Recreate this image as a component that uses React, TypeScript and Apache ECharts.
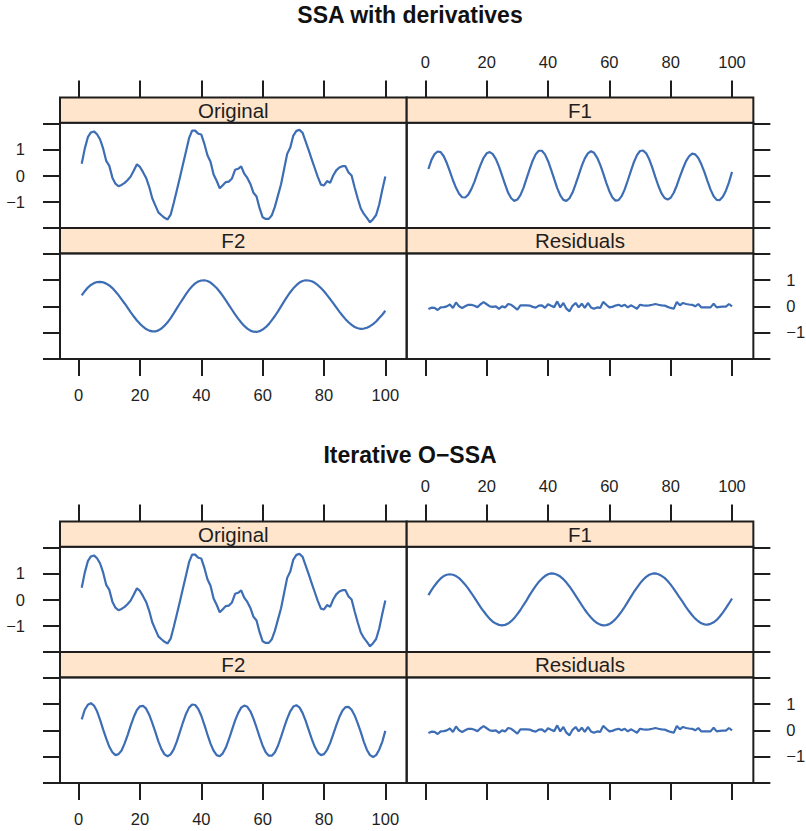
import React, { useEffect, useRef } from "react";
import * as echarts from "echarts";

// Tick positions and labelled ticks
const X_TICKS = [0, 20, 40, 60, 80, 100];
const Y_TICKS = [-2, -1, 0, 1, 2];
const Y_LABELS = [-1, 0, 1];

// Observed series (t = 1..100)
const original = [
  0.45, 1.03, 1.47, 1.65, 1.69, 1.58, 1.38, 1.03, 0.56, 0.37,
  -0.08, -0.31, -0.41, -0.36, -0.28, -0.17, -0.03, 0.19, 0.43, 0.33,
  0.13, -0.09, -0.43, -0.87, -1.14, -1.41, -1.52, -1.62, -1.68, -1.5,
  -1.05, -0.57, -0.08, 0.42, 0.92, 1.43, 1.72, 1.72, 1.6, 1.57,
  1.21, 0.78, 0.53, 0.04, -0.2, -0.49, -0.37, -0.25, -0.23, -0.11,
  0.22, 0.26, 0.35, 0.07, -0.09, -0.32, -0.66, -0.8, -1.25, -1.6,
  -1.66, -1.66, -1.52, -1.19, -0.76, -0.33, 0.25, 0.83, 1.07, 1.53,
  1.71, 1.75, 1.64, 1.31, 0.97, 0.62, 0.28, -0.06, -0.35, -0.38,
  -0.21, -0.28, 0.0, 0.2, 0.31, 0.36, 0.36, 0.12, 0.0, -0.46,
  -0.88, -1.26, -1.47, -1.62, -1.79, -1.67, -1.51, -1.11, -0.55, -0.04,
];

// SSA with derivatives: reconstructed components
const ssaF1 = [
  0.25, 0.6, 0.82, 0.92, 0.9, 0.74, 0.48, 0.16, -0.18, -0.47,
  -0.7, -0.83, -0.84, -0.73, -0.52, -0.24, 0.09, 0.41, 0.68, 0.85,
  0.9, 0.82, 0.63, 0.35, 0.01, -0.34, -0.66, -0.87, -0.97, -0.92,
  -0.75, -0.47, -0.12, 0.24, 0.57, 0.82, 0.95, 0.95, 0.81, 0.56,
  0.23, -0.13, -0.48, -0.76, -0.93, -0.97, -0.87, -0.65, -0.33, 0.02,
  0.37, 0.66, 0.85, 0.93, 0.87, 0.69, 0.42, 0.08, -0.28, -0.6,
  -0.84, -0.96, -0.94, -0.79, -0.53, -0.19, 0.17, 0.51, 0.78, 0.94,
  0.96, 0.85, 0.62, 0.3, -0.06, -0.4, -0.68, -0.86, -0.92, -0.85,
  -0.66, -0.38, -0.04, 0.27, 0.55, 0.74, 0.84, 0.81, 0.67, 0.43,
  0.13, -0.21, -0.54, -0.79, -0.93, -0.94, -0.81, -0.58, -0.26, 0.14,
];
const ssaF2 = [
  0.42, 0.58, 0.72, 0.82, 0.89, 0.93, 0.94, 0.92, 0.87, 0.8,
  0.7, 0.57, 0.43, 0.27, 0.11, -0.06, -0.23, -0.39, -0.54, -0.67,
  -0.78, -0.87, -0.93, -0.96, -0.96, -0.92, -0.85, -0.74, -0.61, -0.45,
  -0.27, -0.08, 0.11, 0.29, 0.47, 0.63, 0.77, 0.88, 0.95, 0.99,
  1.0, 0.97, 0.91, 0.81, 0.7, 0.56, 0.4, 0.23, 0.05, -0.13,
  -0.31, -0.47, -0.62, -0.75, -0.85, -0.93, -0.97, -0.98, -0.95, -0.89,
  -0.8, -0.68, -0.53, -0.37, -0.19, 0.0, 0.19, 0.37, 0.54, 0.69,
  0.81, 0.91, 0.97, 1.0, 0.99, 0.96, 0.9, 0.81, 0.7, 0.58,
  0.43, 0.28, 0.12, -0.04, -0.2, -0.35, -0.49, -0.61, -0.71, -0.79,
  -0.84, -0.86, -0.85, -0.82, -0.76, -0.68, -0.58, -0.45, -0.32, -0.17,
];
const ssaResiduals = [
  -0.1, -0.05, -0.06, -0.14, -0.04, -0.03, 0.0, 0.07, -0.06, 0.15,
  0.0, -0.06, 0.0, 0.06, 0.06, 0.02, -0.03, 0.08, 0.16, 0.08,
  0.0, -0.02, 0.0, -0.1, 0.0, -0.04, 0.09, 0.06, -0.03, -0.13,
  0.04, 0.04, 0.04, 0.03, -0.02, -0.05, 0.03, 0.04, -0.06, 0.08,
  0.02, -0.03, 0.19, -0.04, 0.13, -0.09, -0.19, 0.02, 0.13, -0.04,
  0.1, -0.06, 0.13, -0.04, -0.09, -0.04, -0.06, 0.17, 0.06, -0.04,
  -0.02, 0.03, 0.06, 0.0, 0.06, -0.04, 0.04, -0.02, -0.09, 0.06,
  0.04, 0.03, 0.04, 0.06, 0.09, 0.06, 0.04, 0.03, -0.02, -0.06,
  -0.09, 0.17, 0.04, 0.13, 0.09, 0.07, 0.06, 0.0, 0.09, -0.04,
  -0.04, -0.04, -0.04, 0.1, -0.04, -0.02, -0.01, -0.01, 0.09, 0.0,
];

// Iterative O-SSA: reconstructed components
const ossaF1 = [
  0.17, 0.36, 0.53, 0.68, 0.81, 0.9, 0.95, 0.97, 0.95, 0.9,
  0.82, 0.7, 0.57, 0.42, 0.25, 0.07, -0.11, -0.29, -0.45, -0.6,
  -0.74, -0.85, -0.92, -0.97, -0.99, -0.97, -0.92, -0.83, -0.71, -0.56,
  -0.4, -0.21, -0.03, 0.17, 0.35, 0.52, 0.68, 0.8, 0.9, 0.97,
  1.0, 0.99, 0.95, 0.88, 0.78, 0.65, 0.5, 0.33, 0.15, -0.03,
  -0.21, -0.39, -0.55, -0.69, -0.81, -0.9, -0.96, -0.99, -0.98, -0.94,
  -0.86, -0.75, -0.61, -0.45, -0.28, -0.09, 0.1, 0.29, 0.46, 0.62,
  0.76, 0.87, 0.95, 0.99, 1.0, 0.97, 0.91, 0.83, 0.71, 0.57,
  0.41, 0.24, 0.06, -0.11, -0.29, -0.45, -0.6, -0.73, -0.83, -0.91,
  -0.95, -0.96, -0.93, -0.87, -0.78, -0.65, -0.5, -0.33, -0.15, 0.04,
];
const ossaF2 = [
  0.42, 0.79, 0.98, 1.04, 0.95, 0.73, 0.4, 0.03, -0.32, -0.63,
  -0.84, -0.95, -0.91, -0.77, -0.5, -0.17, 0.19, 0.52, 0.78, 0.92,
  0.94, 0.83, 0.6, 0.29, -0.06, -0.42, -0.72, -0.92, -0.99, -0.92,
  -0.73, -0.43, -0.07, 0.3, 0.63, 0.87, 0.99, 0.97, 0.82, 0.56,
  0.21, -0.16, -0.51, -0.78, -0.95, -0.99, -0.88, -0.66, -0.34, 0.02,
  0.37, 0.66, 0.87, 0.95, 0.9, 0.73, 0.45, 0.11, -0.25, -0.59,
  -0.84, -0.97, -0.97, -0.84, -0.59, -0.25, 0.11, 0.45, 0.73, 0.91,
  0.96, 0.88, 0.67, 0.37, 0.02, -0.33, -0.63, -0.85, -0.95, -0.91,
  -0.75, -0.49, -0.15, 0.19, 0.51, 0.75, 0.89, 0.9, 0.79, 0.57,
  0.27, -0.07, -0.44, -0.75, -0.95, -1.02, -0.95, -0.74, -0.44, -0.02,
];
const ossaResiduals = [
  -0.1, -0.05, -0.06, -0.14, -0.04, -0.03, 0.0, 0.07, -0.06, 0.15,
  0.0, -0.06, 0.0, 0.06, 0.06, 0.02, -0.03, 0.08, 0.16, 0.08,
  0.0, -0.02, 0.0, -0.1, 0.0, -0.04, 0.09, 0.06, -0.03, -0.13,
  0.04, 0.04, 0.04, 0.03, -0.02, -0.05, 0.03, 0.04, -0.06, 0.08,
  0.02, -0.03, 0.19, -0.04, 0.13, -0.09, -0.19, 0.02, 0.13, -0.04,
  0.1, -0.06, 0.13, -0.04, -0.09, -0.04, -0.06, 0.17, 0.06, -0.04,
  -0.02, 0.03, 0.06, 0.0, 0.06, -0.04, 0.04, -0.02, -0.09, 0.06,
  0.04, 0.03, 0.04, 0.06, 0.09, 0.06, 0.04, 0.03, -0.02, -0.06,
  -0.09, 0.17, 0.04, 0.13, 0.09, 0.07, 0.06, 0.0, 0.09, -0.04,
  -0.04, -0.04, -0.04, 0.1, -0.04, -0.02, -0.01, -0.01, 0.09, 0.0,
];

const PANEL_NAMES = ["Original", "F1", "F2", "Residuals"];
const TITLES = ["SSA with derivatives", "Iterative O\u2212SSA"];
const BLOCK_SERIES = [
  [original, ssaF1, ssaF2, ssaResiduals],
  [original, ossaF1, ossaF2, ossaResiduals],
];

// Layout (pixels)
const FONT = "'Liberation Sans', Arial, Helvetica, sans-serif";
const INK = "#1e1e1e";
const LINE = "#3d6db5";
const STRIP_FILL = "#ffe5cc";
const COL_X = [60, 406.7];
const COL_W = 346.65;
const STRIP_H = 25.3;
const PANEL_H = 105.5;
const STRIP_TOP = [97.5, 228];
const PANEL_TOP = [122.8, 253.6];
const BLOCK_OY = [0, 424];
const TITLE_Y = [15, 455];
const TITLE_X = 410;
const X_MIN = -6.08;
const X_MAX = 106.95;
const Y_LIM = 2.02;

const minusFmt = (v: number) => (v < 0 ? "\u2212" + Math.abs(v) : String(v));

function buildOption() {
  const grid: any[] = [];
  const xAxis: any[] = [];
  const yAxis: any[] = [];
  const series: any[] = [];
  const graphic: any[] = [];

  BLOCK_SERIES.forEach((block, b) => {
    const oy = BLOCK_OY[b];
    graphic.push({
      type: "text",
      x: TITLE_X,
      y: TITLE_Y[b],
      style: {
        text: TITLES[b],
        fill: "#111",
        fontFamily: FONT,
        fontSize: 23,
        fontWeight: "bold",
        align: "center",
        verticalAlign: "middle",
      },
    });

    block.forEach((values, p) => {
      const r = Math.floor(p / 2);
      const c = p % 2;
      const idx = grid.length;
      grid.push({
        left: COL_X[c],
        top: oy + PANEL_TOP[r],
        width: COL_W,
        height: PANEL_H,
        show: true,
        borderColor: INK,
        borderWidth: 2,
        backgroundColor: "transparent",
        containLabel: false,
        outerBoundsMode: "none",
      });
      const xLabelled = (r === 0 && c === 1) || (r === 1 && c === 0);
      xAxis.push({
        gridIndex: idx,
        type: "value",
        min: X_MIN,
        max: X_MAX,
        position: r === 0 ? "top" : "bottom",
        offset: r === 0 ? STRIP_H : 0,
        axisLine: { show: false, onZero: false },
        axisTick: {
          show: true,
          length: 17,
          lineStyle: { color: INK, width: 2 },
          customValues: X_TICKS,
        },
        axisLabel: {
          show: xLabelled,
          customValues: X_TICKS,
          margin: 27,
          fontSize: 16.5,
          fontFamily: FONT,
          color: INK,
        },
        splitLine: { show: false },
      });
      const yLabelled = (c === 0 && r === 0) || (c === 1 && r === 1);
      yAxis.push({
        gridIndex: idx,
        type: "value",
        min: -Y_LIM,
        max: Y_LIM,
        position: c === 0 ? "left" : "right",
        axisLine: { show: false, onZero: false },
        axisTick: {
          show: true,
          length: 17,
          lineStyle: { color: INK, width: 2 },
          customValues: Y_TICKS,
        },
        axisLabel: {
          show: yLabelled,
          customValues: Y_LABELS,
          margin: c === 0 ? 35 : 33,
          fontSize: 16.5,
          fontFamily: FONT,
          color: INK,
          formatter: minusFmt,
        },
        splitLine: { show: false },
      });
      series.push({
        type: "line",
        name: PANEL_NAMES[p],
        xAxisIndex: idx,
        yAxisIndex: idx,
        data: values.map((v, i) => [i + 1, v]),
        showSymbol: false,
        symbol: "none",
        silent: true,
        lineStyle: { color: LINE, width: 2.2 },
      });

      graphic.push({
        type: "rect",
        shape: { x: COL_X[c], y: oy + STRIP_TOP[r], width: COL_W, height: STRIP_H },
        style: { fill: STRIP_FILL, stroke: INK, lineWidth: 2 },
      });
      graphic.push({
        type: "text",
        x: COL_X[c] + COL_W / 2,
        y: oy + STRIP_TOP[r] + STRIP_H / 2,
        style: {
          text: PANEL_NAMES[p],
          fill: INK,
          fontFamily: FONT,
          fontSize: 20.5,
          align: "center",
          verticalAlign: "middle",
        },
      });
    });
  });

  return {
    animation: false,
    backgroundColor: "#ffffff",
    grid,
    xAxis,
    yAxis,
    series,
    graphic,
  };
}

export default function App() {
  const ref = useRef<HTMLDivElement | null>(null);
  useEffect(() => {
    if (!ref.current) return;
    const chart = echarts.init(ref.current, undefined, { renderer: "svg" });
    chart.setOption(buildOption() as any);
    return () => chart.dispose();
  }, []);
  return (
    <div
      ref={ref}
      style={{ position: "fixed", left: 0, top: 0, width: 806, height: 831, background: "#fff" }}
    />
  );
}
